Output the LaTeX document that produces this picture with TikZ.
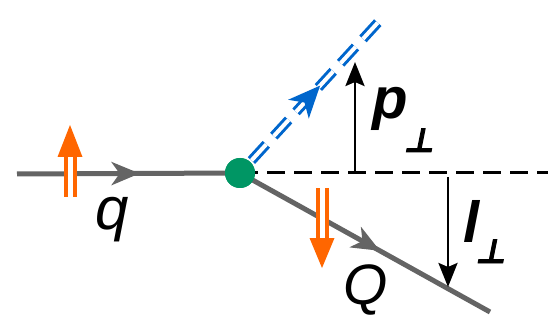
\documentclass[tikz,border=0pt]{standalone}
\usepackage{fontspec}
\setmainfont{Liberation Sans}
\newfontfamily\perpfont{DejaVu Sans}[FakeBold=3,FakeSlant=0.2]
\usetikzlibrary{arrows.meta,decorations.markings,calc}
\definecolor{lineGray}{RGB}{100,100,100}
\definecolor{dotGreen}{RGB}{0,150,100}
\definecolor{spinOrange}{RGB}{255,102,0}
\definecolor{gluBlue}{RGB}{0,102,204}
\newcommand{\perpsub}[1]{\kern-4pt\raisebox{-#1}{\fontsize{33}{35}\selectfont\perpfont ⊥}}
\tikzset{
  fermion/.style={draw=lineGray, line width=5pt},
  midarrow/.style={postaction={decorate}, decoration={markings,
      mark=at position #1 with {\arrow{Stealth[length=28pt,width=23pt,inset=8pt]}}}},
  gluon/.style={draw=gluBlue, line width=3pt, double=white, double distance=4pt,
      dash pattern=on 22pt off 11pt},
  bluehead/.style={postaction={decorate}, decoration={markings,
      mark=at position #1 with {\fill[gluBlue] (0pt,0pt) -- (-32pt,14pt) -- (-23pt,0pt) -- (-32pt,-14pt) -- cycle;}}},
  refline/.style={draw=black, line width=3pt, dash pattern=on 18pt off 9pt},
  kick/.style={draw=black, line width=2.8pt, -{Stealth[length=24pt,width=19pt,inset=4pt]}},
  spinshaft/.style={draw=spinOrange, line width=4pt, double=white, double distance=5pt},
  vertex/.style={circle, fill=dotGreen, minimum size=30pt, inner sep=0pt},
  lbl/.style={font=\fontsize{60}{66}\selectfont\itshape, inner sep=0pt},
  blbl/.style={font=\fontsize{58}{64}\selectfont\bfseries\itshape, inner sep=0pt}
}
\begin{document}
\begin{tikzpicture}[x=1pt,y=-1pt]
\useasboundingbox (0,0) rectangle (548,320);
% coordinates
\coordinate (qin) at (17,174);
\coordinate (qout) at (490,312);
\coordinate (rend) at (548,173);
\coordinate (gend) at (383,17);
\coordinate (pbase) at (355,172);
\coordinate (ptip) at (355,62);
\coordinate (lbase) at (448,177);
\coordinate (ltip) at (448,287);
\node[vertex] (v) at (240,173) {};
% lines
\draw[refline] (v.center) -- (rend);
\draw[fermion, midarrow=0.55] (qin) -- (v.center);
\draw[fermion, midarrow=0.56] (v.center) -- (qout);
\draw[gluon] ($(v.center)!0.08!(gend)$) -- (gend);
\path[bluehead=0.56] (v.center) -- (gend);
\draw[kick] (pbase) -- (ptip);
\draw[kick] (lbase) -- (ltip);
% spin arrows
\draw[spinshaft] (70,197) -- (70,156);
\fill[spinOrange] (57.5,157) -- (82.5,157) -- (70,125) -- cycle;
\draw[spinshaft] (322,188) -- (322,239);
\fill[spinOrange] (309.5,238) -- (334.5,238) -- (322,268) -- cycle;
% vertex on top
\node[vertex] at (v) {};
% labels
\node[lbl] (lq) at (112,220) {q};
\node[lbl, font=\fontsize{57}{62}\selectfont\itshape] (lQ) at (366,290) {Q};
\node[blbl, anchor=base west] (lp) at (372,119) {p\perpsub{33pt}};
\node[blbl, anchor=base west] (ll) at (463,242) {l\perpsub{21pt}};
\end{tikzpicture}
\end{document}
